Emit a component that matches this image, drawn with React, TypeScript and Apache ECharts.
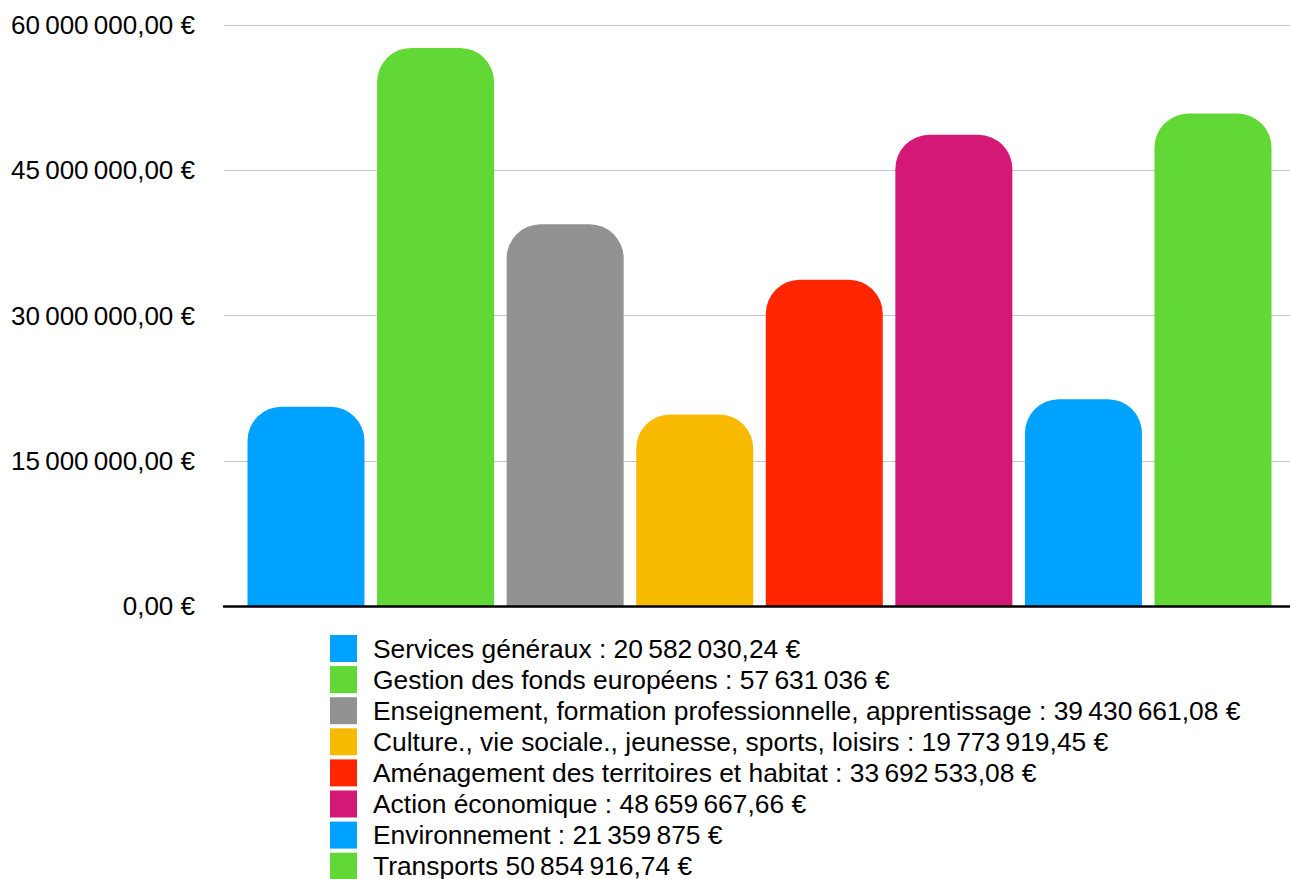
import React, { useEffect, useRef } from "react";
import * as echarts from "echarts";

const NB = "\u202F";

const categories = [
  "Services généraux",
  "Gestion des fonds européens",
  "Enseignement, formation professionnelle, apprentissage",
  "Culture., vie sociale., jeunesse, sports, loisirs",
  "Aménagement des territoires et habitat",
  "Action économique",
  "Environnement",
  "Transports",
];

const values = [
  20582030.24, 57631036, 39430661.08, 19773919.45, 33692533.08, 48659667.66,
  21359875, 50854916.74,
];

const legendLabels = [
  `Services généraux : 20${NB}582${NB}030,24 €`,
  `Gestion des fonds européens : 57${NB}631${NB}036 €`,
  `Enseignement, formation professionnelle, apprentissage : 39${NB}430${NB}661,08 €`,
  `Culture., vie sociale., jeunesse, sports, loisirs : 19${NB}773${NB}919,45 €`,
  `Aménagement des territoires et habitat : 33${NB}692${NB}533,08 €`,
  `Action économique : 48${NB}659${NB}667,66 €`,
  `Environnement : 21${NB}359${NB}875 €`,
  `Transports 50${NB}854${NB}916,74 €`,
];

const colors = [
  "#00A2FF",
  "#61D836",
  "#929292",
  "#F8BA00",
  "#FF2600",
  "#D41876",
  "#00A2FF",
  "#61D836",
];

const yMin = 0;
const yMax = 60000000;
const yInterval = 15000000;

function fmtEuro(v: number): string {
  const s = Math.round(v).toString();
  const parts: string[] = [];
  for (let i = s.length; i > 0; i -= 3) {
    parts.unshift(s.slice(Math.max(0, i - 3), i));
  }
  return parts.join(NB) + ",00 €";
}

const H = 920;

export default function App() {
  const ref = useRef<HTMLDivElement>(null);
  useEffect(() => {
    document.body.style.margin = "0";
    document.body.style.overflow = "hidden";
    document.documentElement.style.overflow = "hidden";
    if (!ref.current) return;
    const chart = echarts.init(ref.current, null, { renderer: "svg" });
    const font = "'Liberation Sans', Arial, Helvetica, sans-serif";
    const top = 25;
    const bottom = H - 606;
    chart.setOption({
      animation: false,
      backgroundColor: "#ffffff",
      textStyle: { fontFamily: font },
      grid: [
        { left: 241.2, right: 12.2, top, bottom, containLabel: false },
        { left: 224, right: 0, top, bottom, containLabel: false },
      ],
      xAxis: [
        {
          type: "category",
          gridIndex: 0,
          data: categories,
          show: false,
        },
        {
          type: "value",
          gridIndex: 1,
          min: 0,
          max: 1,
          z: 5,
          axisLine: { show: true, lineStyle: { color: "#000000", width: 2.5 } },
          axisTick: { show: false },
          axisLabel: { show: false },
          splitLine: { show: false },
        },
      ],
      yAxis: [
        {
          type: "value",
          gridIndex: 0,
          min: yMin,
          max: yMax,
          interval: yInterval,
          show: false,
        },
        {
          type: "value",
          gridIndex: 1,
          min: yMin,
          max: yMax,
          interval: yInterval,
          axisLine: { show: false },
          axisTick: { show: false },
          axisLabel: {
            margin: 29,
            color: "#000000",
            fontSize: 26,
            fontFamily: font,
            formatter: (v: number) => fmtEuro(v),
          },
          splitLine: { show: true, lineStyle: { color: "#c6c6c6", width: 1 } },
        },
      ],
      legend: {
        orient: "vertical",
        left: 325,
        top: 630,
        itemWidth: 27,
        itemHeight: 27,
        itemGap: 4.1,
        icon: "rect",
        selectedMode: false,
        data: legendLabels,
        textStyle: {
          color: "#000000",
          fontSize: 26.4,
          fontFamily: font,
          lineHeight: 27,
          padding: [0, 0, 0, 11],
        },
      },
      series: values.map((v, i) => ({
        type: "bar",
        name: legendLabels[i],
        xAxisIndex: 0,
        yAxisIndex: 0,
        barWidth: 117,
        barGap: "-100%",
        data: categories.map((_, j) => (j === i ? v : "-")),
        itemStyle: { color: colors[i], borderRadius: [34, 34, 0, 0] },
      })),
    });
    return () => chart.dispose();
  }, []);
  return <div ref={ref} style={{ width: 1290, height: H }} />;
}
